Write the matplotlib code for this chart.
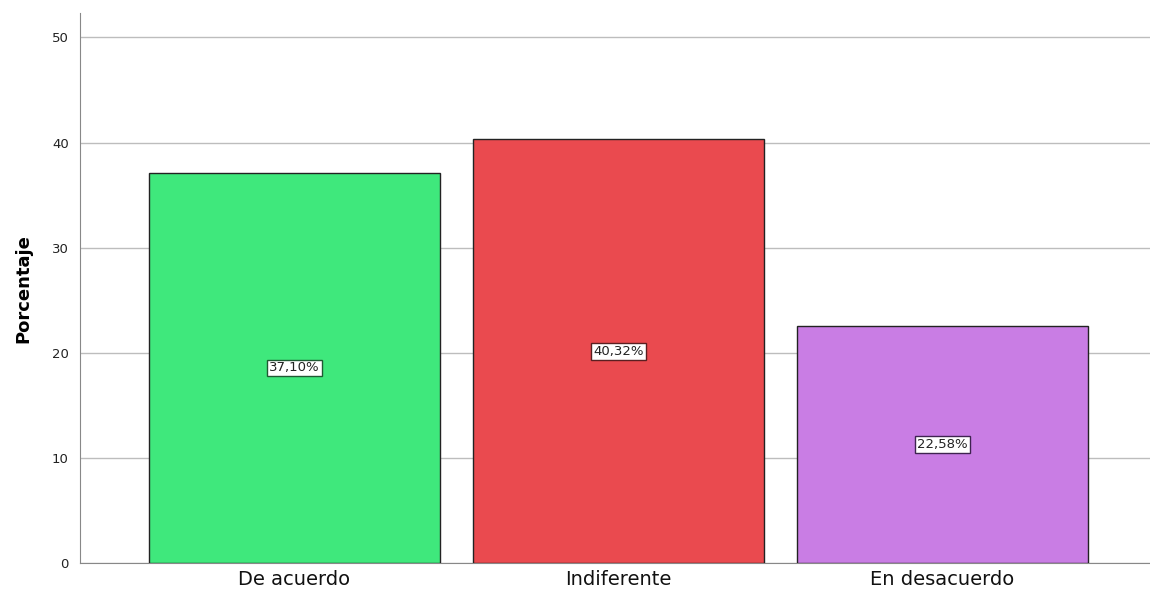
import matplotlib
matplotlib.use("Agg")
import matplotlib.pyplot as plt

categories = ["De acuerdo", "Indiferente", "En desacuerdo"]
percentages = [37.10, 40.32, 22.58]
bar_colors = ["#3fe87c", "#ea4a4f", "#c97de4"]
edge_colors = ["#1f5a33", "#5a1f21", "#3e2350"]
yticks = [0, 10, 20, 30, 40, 50]

fig = plt.figure(figsize=(11.5, 5.96), dpi=100)
ax = fig.add_axes([0.0696, 0.0554, 0.9304, 0.9224])

x = list(range(len(categories)))
ax.bar(x, percentages, width=0.9, color=bar_colors, edgecolor="#222222",
       linewidth=1.0, zorder=3)

# value labels in the middle of each bar
for xi, val, ec in zip(x, percentages, edge_colors):
    txt = f"{val:.2f}".replace(".", ",") + "%"
    ax.text(xi, val / 2, txt, ha="center", va="center", fontsize=9.5,
            color="#222222", zorder=4,
            bbox=dict(boxstyle="square,pad=0.15", facecolor="white",
                      edgecolor=ec, linewidth=1.0))

ax.set_xlim(-0.662, 2.64)
ax.set_ylim(0, 52.3)
ax.set_yticks(yticks)
ax.set_yticklabels([str(t) for t in yticks], fontsize=9.5, color="#222222")
ax.set_xticks(x)
ax.set_xticklabels(categories, fontsize=14, color="#111111")
ax.tick_params(axis="y", length=0, pad=8)
ax.tick_params(axis="x", length=0, pad=5)
ax.grid(axis="y", color="#bdbdbd", linewidth=1.0, zorder=0)
ax.set_axisbelow(True)

ax.set_ylabel("Porcentaje", fontsize=13, fontweight="bold", labelpad=14)
for side in ["top", "right"]:
    ax.spines[side].set_visible(False)
ax.spines["left"].set_color("#888888")
ax.spines["bottom"].set_color("#888888")

fig.savefig("out.png", dpi=100, facecolor="white")
